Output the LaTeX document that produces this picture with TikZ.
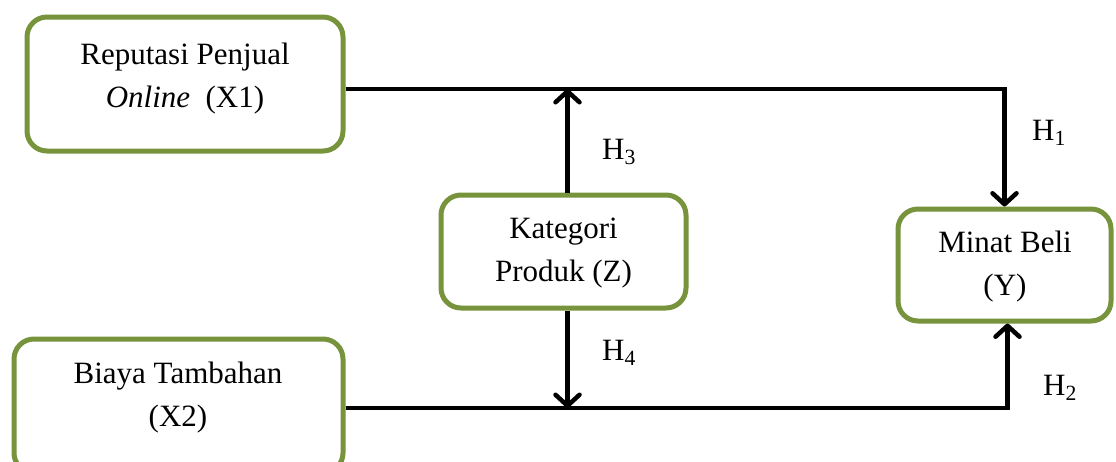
\documentclass[tikz,border=0pt]{standalone}
\usepackage{fontspec}
\setmainfont{Liberation Serif}
\usetikzlibrary{arrows.meta}
\definecolor{boxgreen}{RGB}{119,147,60}
\begin{document}
\begin{tikzpicture}[x=1pt,y=-1pt,
  box/.style={draw=boxgreen, line width=5pt, rounded corners=20pt, fill=white, inner sep=0pt},
  lbl/.style={font=\fontsize{31}{43}\selectfont, align=center, inner sep=0pt},
  hl/.style={font=\fontsize{31}{37}\selectfont, inner sep=0pt, anchor=base west},
  conn/.style={line width=4.5pt},
  arr/.style={conn, -{Straight Barb[length=11pt,width=24pt,line cap=round,line join=round]}}]
\useasboundingbox (0,0) rectangle (1116,461);
% boxes
\node[box, minimum width=316pt, minimum height=134pt] (x1) at (185,84) {};
\node[box, minimum width=329pt, minimum height=134pt] (x2) at (178.5,406) {};
\node[box, minimum width=245pt, minimum height=113pt] (z) at (563.5,251.5) {};
\node[box, minimum width=213pt, minimum height=112pt] (y) at (1004.5,265) {};
% texts
\node[lbl] (tx1) at (185,79) {Reputasi Penjual\\\textit{Online}\ \ (X1)};
\node[lbl] (tx2) at (178,398) {Biaya Tambahan\\(X2)};
\node[lbl] (tz) at (563.5,253) {Kategori\\Produk (Z)};
\node[lbl] (ty) at (1005,267) {Minat Beli\\(Y)};
% line coordinates
\coordinate (top) at ([yshift=-5pt]x1.east);
\coordinate (bot) at ([yshift=-2pt]x2.east);
\coordinate (zn) at ([xshift=4pt]z.north);
\coordinate (zs) at ([xshift=4pt]z.south);
% connectors
\draw[arr] (top) -| (y.north);
\draw[arr] (bot) -| ([xshift=3pt]y.south);
\draw[arr] (zn) -- (zn |- top);
\draw[arr] (zs) -- (zs |- bot);
% hypothesis labels
\node[hl] (h1) at (1032,140) {H\textsubscript{1}};
\node[hl] (h2) at (1043,395) {H\textsubscript{2}};
\node[hl] (h3) at (602,159) {H\textsubscript{3}};
\node[hl] (h4) at (602,360) {H\textsubscript{4}};
\end{tikzpicture}
\end{document}
